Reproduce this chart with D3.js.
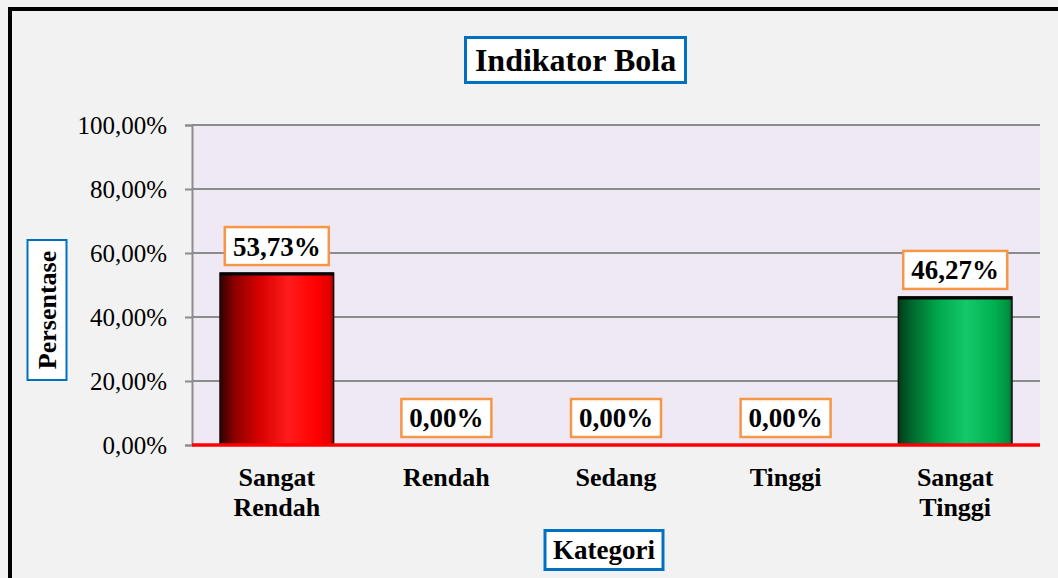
<!DOCTYPE html>
<html><head><meta charset="utf-8">
<script src="https://cdn.jsdelivr.net/npm/d3@7"></script>
<style>body{margin:0;background:#fff;}svg{display:block;font-family:"Liberation Serif","Times New Roman",serif;}svg text{font-family:"Liberation Serif","Times New Roman",serif;}</style>
</head><body>
<svg id="c" width="1058" height="578"></svg>
<script>
const categories = [["Sangat","Rendah"],["Rendah"],["Sedang"],["Tinggi"],["Sangat","Tinggi"]];
const values = [53.73, 0, 0, 0, 46.27];
const valueLabels = ["53,73%","0,00%","0,00%","0,00%","46,27%"];
const yTicks = [0,20,40,60,80,100];
const yTickLabels = ["0,00%","20,00%","40,00%","60,00%","80,00%","100,00%"];
const title = "Indikator Bola", yTitle = "Persentase", xTitle = "Kategori";

const svg = d3.select("#c");
svg.append("rect").attr("x",0).attr("y",0).attr("width",1058).attr("height",578).attr("fill","#f2f2f2");
svg.append("path").attr("d","M10,580 L10,9 L1060,9").attr("fill","none").attr("stroke","#000").attr("stroke-width",4);

const L=192,R=1040,T=125,B=445;
const x = d3.scaleBand().domain(d3.range(categories.length)).range([L,R]).paddingInner(0.33).paddingOuter(0.165);
const y = d3.scaleLinear().domain([0,100]).range([B,T]);

const defs = svg.append("defs");
function grad(id, stops){
  const g = defs.append("linearGradient").attr("id",id).attr("x1","0").attr("x2","1").attr("y1","0").attr("y2","0");
  stops.forEach(s=>g.append("stop").attr("offset",s[0]).attr("stop-color",s[1]));
}
grad("gRed",[[0,"#2e0000"],[0.12,"#8a0000"],[0.35,"#d80000"],[0.6,"#ff1c1c"],[0.85,"#ff0000"],[0.97,"#e00000"],[1,"#900000"]]);
grad("gGreen",[[0,"#003d18"],[0.12,"#00692e"],[0.35,"#00a84c"],[0.6,"#14c86a"],[0.85,"#00b050"],[0.97,"#009040"],[1,"#005a28"]]);
const fills = ["url(#gRed)","url(#gRed)","url(#gRed)","url(#gGreen)","url(#gGreen)"];

svg.append("rect").attr("x",L).attr("y",T).attr("width",R-L).attr("height",B-T).attr("fill","#efe9f5");

svg.append("g").selectAll("line").data(yTicks.slice(1)).join("line")
  .attr("x1",L).attr("x2",R).attr("y1",d=>y(d)).attr("y2",d=>y(d))
  .attr("stroke","#8c8c8c").attr("stroke-width",2);

const yAxis = d3.axisLeft(y).tickValues(yTicks).tickFormat((d,i)=>yTickLabels[i]).tickSize(7).tickPadding(18);
const ga = svg.append("g").attr("transform",`translate(${L},0)`).call(yAxis);
ga.select(".domain").attr("stroke","#8c8c8c").attr("stroke-width",2);
ga.selectAll(".tick line").attr("stroke","#8c8c8c").attr("stroke-width",2);
ga.selectAll(".tick text").attr("font-family","Liberation Serif").attr("font-size",25).attr("fill","#000");

svg.append("g").selectAll("rect").data(values).join("rect")
  .attr("x",(d,i)=>x(i)).attr("width",x.bandwidth())
  .attr("y",d=>y(d)).attr("height",d=>B-y(d))
  .attr("fill",(d,i)=>fills[i]).attr("stroke","#111").attr("stroke-width",1.5);
svg.append("g").selectAll("line").data(values.map((v,i)=>[v,i]).filter(d=>d[0]>0)).join("line")
  .attr("x1",d=>x(d[1])).attr("x2",d=>x(d[1])+x.bandwidth())
  .attr("y1",d=>y(d[0])+1).attr("y2",d=>y(d[0])+1).attr("stroke","#000").attr("stroke-width",3);

svg.append("line").attr("x1",L).attr("x2",R).attr("y1",B).attr("y2",B).attr("stroke","#ff0000").attr("stroke-width",3.5);

const lab = svg.append("g").selectAll("g").data(values).join("g")
  .attr("transform",(d,i)=>`translate(${x(i)+x.bandwidth()/2},${y(d)-27})`);
lab.append("rect").attr("x",-52).attr("y",-19).attr("width",104).attr("height",38)
  .attr("fill","#fff").attr("stroke","#f79646").attr("stroke-width",2.5);
lab.append("text").attr("text-anchor","middle").attr("dy","0.35em").attr("font-weight","bold")
  .attr("font-size",27).text((d,i)=>valueLabels[i]);
lab.filter(d=>d===0).select("rect").attr("x",-45).attr("width",90);

svg.append("g").selectAll("text").data(categories).join("text")
  .attr("x",(d,i)=>x(i)+x.bandwidth()/2).attr("y",486)
  .attr("text-anchor","middle").attr("font-weight","bold").attr("font-size",26)
  .selectAll("tspan").data(d=>d).join("tspan")
  .attr("x",function(){return d3.select(this.parentNode).attr("x");})
  .attr("dy",(d,i)=>i===0?0:30).text(d=>d);

function boxedText(cx,cy,w,h,txt,size,rot){
  const g = svg.append("g").attr("transform",`translate(${cx},${cy}) rotate(${rot||0})`);
  g.append("rect").attr("x",-w/2).attr("y",-h/2).attr("width",w).attr("height",h)
    .attr("fill","#fff").attr("stroke","#0070c0").attr("stroke-width",rot?2:3);
  g.append("text").attr("text-anchor","middle").attr("dy","0.35em").attr("font-weight","bold")
    .attr("font-size",size).text(txt);
}
boxedText(575.5,60,220,45,title,32,0);
boxedText(47,310,140,39,yTitle,26,-90);
boxedText(604,550,118,39,xTitle,27,0);
</script>
</body></html>
